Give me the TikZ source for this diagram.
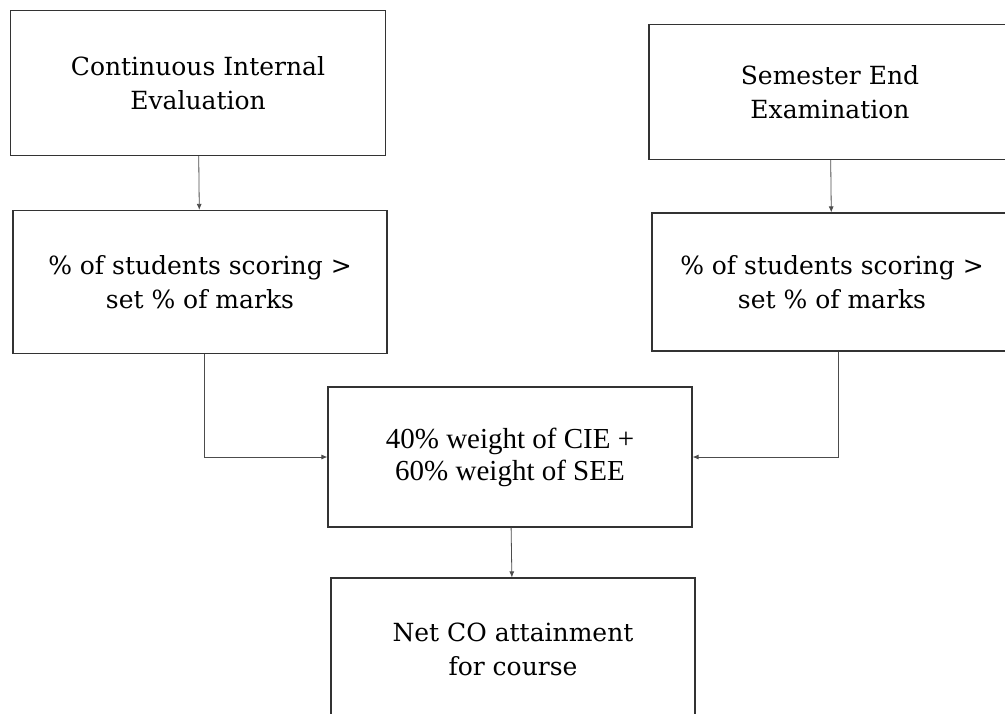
\documentclass[tikz,border=0pt]{standalone}
\usepackage{fontspec}
\setmainfont{DejaVu Serif}
\newfontfamily\weightfont{Liberation Serif}
\usetikzlibrary{arrows.meta}
\tikzset{
  box/.style={draw=black!80, line width=1.2pt, align=center, inner sep=0pt,
    font=\fontsize{25}{34}\selectfont},
  flow/.style={draw=black!70, line width=0.8pt, -{Latex[length=6pt,width=5pt]}}
}

\begin{document}
\begin{tikzpicture}[x=1pt, y=-1pt]
  \useasboundingbox (0,0) rectangle (1005,713);
  \clip (0,0) rectangle (1005,713);
  \node[box, minimum width=375pt, minimum height=145pt] (cie) at (198,83) {Continuous Internal\\Evaluation};
  \node[box, minimum width=362pt, minimum height=135pt] (see) at (830,92) {Semester End\\Examination};
  \node[box, minimum width=374pt, minimum height=143pt] (ciepct) at (200,282) {\% of students scoring >\\set \% of marks};
  \node[box, minimum width=360pt, minimum height=138pt] (seepct) at (832,282) {\% of students scoring >\\set \% of marks};
  \node[box, minimum width=364pt, minimum height=140pt, font=\weightfont\fontsize{29}{32}\selectfont] (weight) at (510,457) {40\% weight of CIE +\\60\% weight of SEE};
  \node[box, minimum width=364pt, minimum height=142pt] (net) at (513,649) {Net CO attainment\\for course};
  \draw[flow] (cie) -- (ciepct);
  \draw[flow] (see) -- (seepct);
  \draw[flow] ([xshift=4pt]ciepct.south) |- (weight.west);
  \draw[flow] ([xshift=6pt]seepct.south) |- (weight.east);
  \draw[flow] (weight) -- (net);
\end{tikzpicture}
\end{document}
